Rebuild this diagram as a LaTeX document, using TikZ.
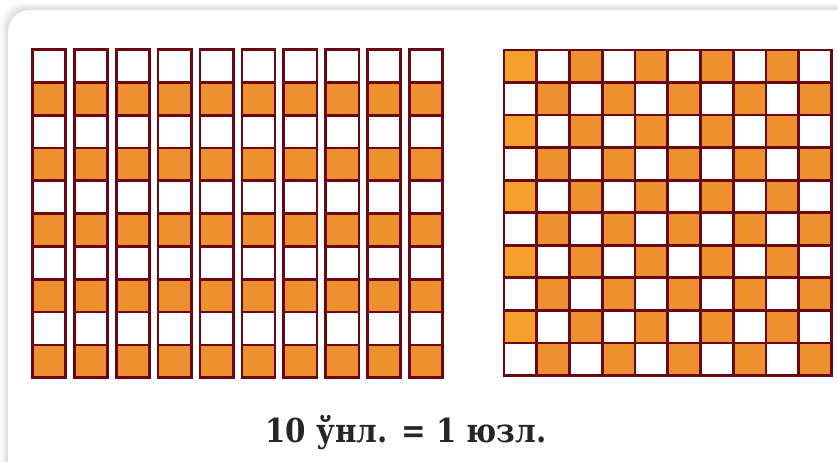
\documentclass[tikz,border=0pt]{standalone}
\usepackage{fontspec}
\newfontfamily\capfont[FakeStretch=0.89]{DejaVu Serif}
\definecolor{frame}{HTML}{6B0712}
\definecolor{org}{HTML}{EE902F}
\definecolor{orgl}{HTML}{F5A02D}
\definecolor{shad}{HTML}{D4D5DA}
\tikzset{
  cellline/.style={draw=frame, line width=2.7pt},
  card/.style={fill=white, rounded corners=22pt},
}
\begin{document}
\begin{tikzpicture}[x=1pt,y=-1pt]
\useasboundingbox (0,0) rectangle (838,462);
\fill[white] (0,0) rectangle (838,462);
% shadow
\foreach \d/\o in {8/0.10,6/0.14,4.5/0.2,3/0.28,1.5/0.4}{
  \fill[shad, opacity=\o, rounded corners=22pt] (8-\d,10-\d) rectangle (870,490);
}
\fill[card] (8,10) rectangle (870,490);
% left: ten strips
\foreach \i in {0,...,9}{
  \pgfmathsetmacro{\xl}{32.4+41.9*\i}
  \pgfmathsetmacro{\xr}{\xl+33.2}
  \foreach \r in {1,3,5,7,9}{
    \fill[org] (\xl,49.6+32.81*\r) rectangle (\xr,49.6+32.81*\r+32.81);
  }
  \draw[cellline] (\xl,49.6) rectangle (\xr,377.7);
  \foreach \r in {1,...,9}{
    \draw[cellline] (\xl,49.6+32.81*\r) -- (\xr,49.6+32.81*\r);
  }
}
% right: 10x10 checkerboard
\foreach \r in {0,...,9}{
  \foreach \c in {0,...,9}{
    \pgfmathtruncatemacro{\pp}{mod(\r+\c,2)}
    \ifnum\pp=0
      \ifnum\c=0
        \fill[orgl] (504+32.74*\c,50+32.54*\r) rectangle (504+32.74*\c+32.74,50+32.54*\r+32.54);
      \else
        \fill[org] (504+32.74*\c,50+32.54*\r) rectangle (504+32.74*\c+32.74,50+32.54*\r+32.54);
      \fi
    \fi
  }
}
\foreach \k in {0,...,10}{
  \draw[cellline] (504+32.74*\k,48.65) -- (504+32.74*\k,376.75);
  \draw[cellline] (502.65,50+32.54*\k) -- (832.75,50+32.54*\k);
}
\node[font=\capfont\bfseries\fontsize{33}{38}\selectfont, text=black!85, anchor=base, inner sep=0pt] (caption) at (406,442.7) {10 ўнл. = 1 юзл.};
\end{tikzpicture}
\end{document}
